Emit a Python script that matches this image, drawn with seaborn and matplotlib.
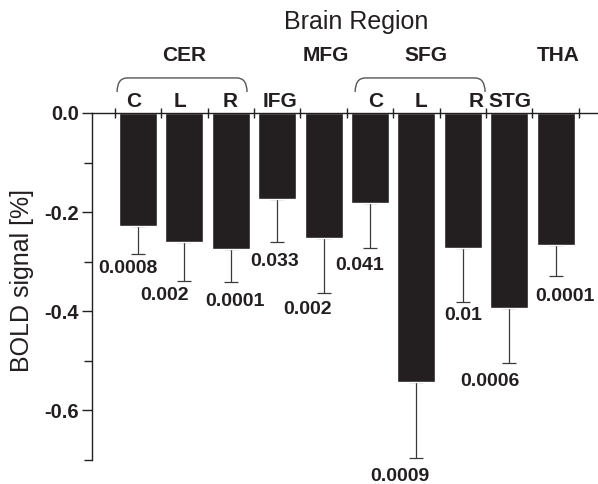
import matplotlib
matplotlib.use("Agg")
import matplotlib.pyplot as plt
from matplotlib.path import Path
from matplotlib.patches import PathPatch
import seaborn as sns

# bar data
regions = ["CER C", "CER L", "CER R", "IFG", "MFG", "SFG C", "SFG L", "SFG R", "STG", "THA"]
bold_signal = [-0.228, -0.261, -0.275, -0.174, -0.252, -0.181, -0.542, -0.273, -0.393, -0.267]
sem_lower = [0.057, 0.078, 0.066, 0.087, 0.111, 0.092, 0.153, 0.108, 0.111, 0.062]
p_values = ["0.0008", "0.002", "0.0001", "0.033", "0.002", "0.041", "0.0009", "0.01", "0.0006", "0.0001"]

sub_labels = ["C", "L", "R", "IFG", "", "C", "L", "R", "STG", ""]
group_labels = ["CER", "MFG", "SFG", "THA"]
group_pos = [0.99, 4.05, 6.21, 9.05]
brackets = [(-0.45, 2.35), (4.68, 7.48)]

# small label nudges, in bar units / pixels
sub_dx = [-0.09, -0.1, -0.02, 0.06, 0, 0.12, 0.1, 0.28, 0.02, 0]
p_dx = [-0.22, -0.42, 0.09, -0.05, -0.34, -0.22, -0.35, 0.0, -0.41, 0.2]
p_dy = [6, 6, 11, 11, 8, 9, 10, 5, 10, 12]

sns.set_style("ticks")
plt.rcParams["font.family"] = ["Liberation Sans", "DejaVu Sans"]
ink = "#231f20"

fig = plt.figure(figsize=(5.98, 4.84), dpi=100)
ax = fig.add_axes([92 / 598, 1 - 460 / 484, (598 - 92) / 598, (460 - 113) / 484])

sns.barplot(x=regions, y=bold_signal, order=regions, color=ink, saturation=1,
            width=0.82, errorbar=None, ax=ax, zorder=2)
xs = list(range(len(regions)))
ax.errorbar(xs, bold_signal, yerr=[sem_lower, [0] * len(xs)], fmt="none",
            ecolor="#3a3a3a", elinewidth=0.9, capsize=4.8, capthick=0.9, zorder=1)

px = 495.0  # pixels per unit of signal
ax.set_xlim(-0.991, 9.914)
ax.set_ylim(-0.7, 0)

for s in ["top", "right"]:
    ax.spines[s].set_visible(False)
ax.spines["bottom"].set_position(("data", 0))
ax.spines["bottom"].set_zorder(3)
ax.spines["left"].set_bounds(-0.7, 0)
for s in ["left", "bottom"]:
    ax.spines[s].set_linewidth(1.0)
    ax.spines[s].set_color(ink)

ax.set_xticks([i - 0.5 for i in range(len(regions) + 1)])
ax.set_xticklabels([])
ax.tick_params(axis="x", direction="inout", length=7, width=1, color=ink)
ax.set_yticks([0, -0.2, -0.4, -0.6])
ax.set_yticklabels(["0.0", "-0.2", "-0.4", "-0.6"], fontsize=14.5, fontweight="bold", color=ink)
ax.set_yticks([-0.1, -0.3, -0.5, -0.7], minor=True)
ax.tick_params(axis="y", which="major", length=7.5, width=1, pad=2, color=ink)
ax.tick_params(axis="y", which="minor", length=6, width=1, color=ink)
ax.set_xlabel("")
ax.set_ylabel("")

for i, lab in enumerate(sub_labels):
    if lab:
        ax.text(i + sub_dx[i], 11 / px, lab, ha="center", va="center", fontsize=15,
                fontweight="bold", color=ink, clip_on=False)
for g, x in zip(group_labels, group_pos):
    ax.text(x, 57 / px, g, ha="center", va="center", fontsize=15,
            fontweight="bold", color=ink, clip_on=False)
ax.text(4.70, 91 / px, "Brain Region", ha="center", va="center", fontsize=18,
        color=ink, clip_on=False)

for x0, x1 in brackets:
    y0, y1, r = 21 / px, 35 / px, 0.22
    verts = [(x0, y0), (x0, y1), (x0 + r, y1), (x1 - r, y1), (x1, y1), (x1, y0)]
    codes = [Path.MOVETO, Path.CURVE3, Path.CURVE3, Path.LINETO, Path.CURVE3, Path.CURVE3]
    ax.add_patch(PathPatch(Path(verts, codes), fill=False, lw=1.0, ec="#555555", clip_on=False))

for i, p in enumerate(p_values):
    y = bold_signal[i] - sem_lower[i] - p_dy[i] / px
    ax.text(i + p_dx[i], y, p, ha="center", va="top", fontsize=14,
            fontweight="bold", color=ink, clip_on=False)

fig.text(22 / 598, 1 - 280 / 484, "BOLD signal [%]", rotation=90, ha="center",
         va="center", fontsize=18, color=ink)

fig.savefig("out.png", dpi=100)
